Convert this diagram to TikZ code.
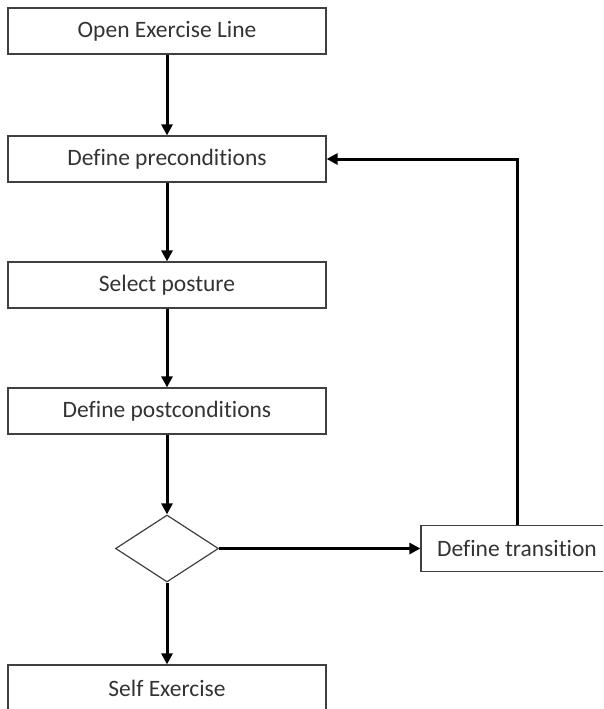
\documentclass[tikz,border=0pt]{standalone}
\usepackage{fontspec}
\setmainfont[Ligatures=NoCommon]{Carlito}
\usepackage{tikz}
\usetikzlibrary{arrows.meta}
\usetikzlibrary{shapes.geometric}
\usepackage{xcolor}

\begin{document}
\begin{tikzpicture}[x=1pt, y=-1pt,
		stepbox/.style={draw=black!75, line width=1.2pt, minimum width=318pt, minimum height=46pt, inner sep=0pt, text=black!80, font=\fontsize{23.5}{28}\selectfont},
		choice/.style={diamond, draw=black!75, line width=1.2pt, minimum width=103pt, minimum height=67pt, inner sep=0pt},
		flow/.style={black, line width=3pt, -{Triangle[length=11pt, width=11pt]}}]
			\useasboundingbox (0, 0) rectangle (603, 709);
			\clip (0, 0) rectangle (603, 709);
			\node[stepbox] (open) at (167, 31) {Open Exercise Line};
			\node[stepbox] (pre) at (167, 159) {Define preconditions};
			\node[stepbox] (posture) at (167, 285) {Select posture};
			\node[stepbox] (post) at (167, 411) {Define postconditions};
			\node[choice] (check) at (167, 548.5) {};
			\node[stepbox, minimum width=192pt] (trans) at (517, 548.5) {Define transition};
			\node[stepbox] (self) at (167, 688) {Self Exercise};
			\draw[flow] (open) -- (pre);
			\draw[flow] (pre) -- (posture);
			\draw[flow] (posture) -- (post);
			\draw[flow] (post) -- (check);
			\draw[flow] (check) -- (trans);
			\draw[flow] (check) -- (self);
			\draw[flow] (trans.north) |- (pre.east);
\end{tikzpicture}
\end{document}
